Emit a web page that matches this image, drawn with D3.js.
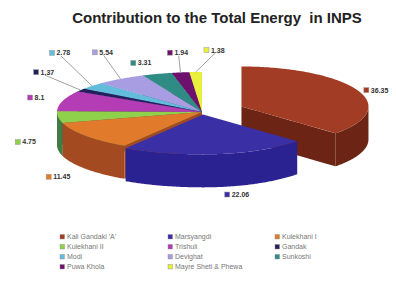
<!DOCTYPE html>
<html lang="en">
<head>
<meta charset="UTF-8">
<script src="https://d3js.org/d3.v7.min.js"></script>
<style>
  body { margin: 0; background: #fff; }
  svg { display: block; font-family: 'Liberation Sans', Arial, sans-serif; }
</style>
</head>
<body>
<div id="chart"></div>
<script>
// data
const stations = ["Kali Gandaki 'A'", "Marsyangdi", "Kulekhani I", "Kulekhani II", "Trishuli", "Gandak",
                  "Modi", "Devighat", "Sunkoshi", "Puwa Khola", "Mayre Sheti & Phewa"];
const shares = [36.35, 22.06, 11.45, 4.75, 8.1, 1.37, 2.78, 5.54, 3.31, 1.94, 1.38];

// colours
const topColors  = ["#a33c25", "#3b2fa6", "#e27a2c", "#8fd14b", "#b43cb4", "#24205e",
                    "#63bcdc", "#a89de2", "#2f8c84", "#6e106e", "#e8f03c"];
const wallColors = ["#6c2414", "#2a2290", "#a44a20", "#3f7c44", "#7c2480", "#14123c",
                    "#3c86a0", "#7468a8", "#1e5e58", "#4a084a", "#a8ae20"];

const width = 396, height = 283;
// the reference is drawn in perspective: left half wider than the right
const cx = 202, cy = 112, rxL = 145, rxR = 127, ry = 40, depth = 33;
const explodeBy = [0.34, 0.06, 0, 0, 0, 0, 0, 0, 0, 0, 0];
// small shifts so labels land where the reference puts them
const labelNudge = [[-6, 8], [14, -12], [-1, 9], [0, 18], [5, 2], [-9, -7],
                    [-7, -20], [1, -10], [-5, 8], [3, 0], [21, -2]];
const leaderFor = [5, 6, 7, 9, 10];

const svg = d3.select("#chart").append("svg")
  .attr("width", width).attr("height", height);

svg.append("text")
  .attr("x", 217).attr("y", 23)
  .attr("text-anchor", "middle")
  .attr("font-size", "15px").attr("font-weight", "bold")
  .attr("fill", "#222")
  .style("white-space", "pre")
  .text("Contribution to the Total Energy  in INPS");

const pie = d3.pie().sort(null).startAngle(0).endAngle(2 * Math.PI);
const arcs = pie(shares).map((d, i) => {
  const mid = (d.startAngle + d.endAngle) / 2;
  const e = explodeBy[i];
  return Object.assign(d, { i, mid, ex: e * Math.sin(mid), ey: -e * Math.cos(mid) });
});

// model (X right, Y toward viewer, Z down) -> screen
function P(X, Y, Z = 0) {
  return [cx + X * (X < 0 ? rxL : rxR), cy + Y * ry + Z];
}
function rim(d, a, Z = 0) { return P(d.ex + Math.sin(a), d.ey - Math.cos(a), Z); }
function arcPts(d, a0, a1, Z = 0) {
  const n = Math.max(2, Math.ceil((a1 - a0) / 0.01));
  return d3.range(n + 1).map(k => rim(d, a0 + (a1 - a0) * k / n, Z));
}
function spoke(d, a, Z = 0) {
  return d3.range(11).map(k => P(d.ex + Math.sin(a) * k / 10, d.ey - Math.cos(a) * k / 10, Z));
}
const poly = pts => "M" + pts.map(p => p[0].toFixed(2) + "," + p[1].toFixed(2)).join("L") + "Z";

function topPath(d) {
  return poly([P(d.ex, d.ey)].concat(arcPts(d, d.startAngle, d.endAngle)));
}
function outerWall(d) {
  const a0 = Math.max(d.startAngle, Math.PI / 2), a1 = Math.min(d.endAngle, 3 * Math.PI / 2);
  if (a1 <= a0) return null;
  return poly(arcPts(d, a0, a1).concat(arcPts(d, a0, a1, depth).reverse()));
}
function radialWall(d, a) {
  return poly(spoke(d, a).concat(spoke(d, a, depth).reverse()));
}

const pieG = svg.append("g");
arcs.slice().sort((a, b) => -Math.cos(a.mid) - -Math.cos(b.mid)).forEach(d => {
  const g = pieG.append("g");
  if (Math.sin(d.startAngle) < -0.01)
    g.append("path").attr("d", radialWall(d, d.startAngle)).attr("fill", wallColors[d.i]);
  if (Math.sin(d.endAngle) > 0.01)
    g.append("path").attr("d", radialWall(d, d.endAngle)).attr("fill", wallColors[d.i]);
  const w = outerWall(d);
  if (w) g.append("path").attr("d", w).attr("fill", wallColors[d.i]);
  g.append("path").attr("d", topPath(d)).attr("fill", topColors[d.i]);
});

// data labels
const labelG = svg.append("g");
arcs.forEach(d => {
  const front = Math.max(0, -Math.cos(d.mid));
  const base = P(d.ex + 1.22 * Math.sin(d.mid), d.ey - 1.5 * Math.cos(d.mid), depth * front);
  const x = base[0] + labelNudge[d.i][0];
  const y = base[1] + labelNudge[d.i][1];
  const txt = String(shares[d.i]);
  const tw = txt.length * 3.9;
  const left = x - (tw + 7) / 2;
  if (leaderFor.includes(d.i)) {
    const p = rim(d, d.mid);
    labelG.append("line")
      .attr("x1", x).attr("y1", y + 3)
      .attr("x2", p[0]).attr("y2", p[1])
      .attr("stroke", "#888").attr("stroke-width", 0.8);
  }
  labelG.append("rect")
    .attr("x", left).attr("y", y - 2.5).attr("width", 5).attr("height", 5)
    .attr("fill", topColors[d.i]).attr("stroke", "#999").attr("stroke-width", 0.5);
  labelG.append("text")
    .attr("x", left + 7).attr("y", y + 2.5)
    .attr("font-size", "7px").attr("font-weight", "bold").attr("fill", "#333")
    .text(txt);
});

// legend, three columns
const legX = [60, 168, 275], legY0 = 237, legDy = 10;
const legend = svg.append("g");
stations.forEach((name, i) => {
  const x = legX[i % 3], y = legY0 + Math.floor(i / 3) * legDy;
  legend.append("rect")
    .attr("x", x).attr("y", y - 2.5).attr("width", 4.5).attr("height", 4.5)
    .attr("fill", topColors[i]).attr("stroke", "#888").attr("stroke-width", 0.4);
  legend.append("text")
    .attr("x", x + 7).attr("y", y + 2)
    .attr("font-size", "7px").attr("fill", "#777")
    .text(name);
});
</script>
</body>
</html>
